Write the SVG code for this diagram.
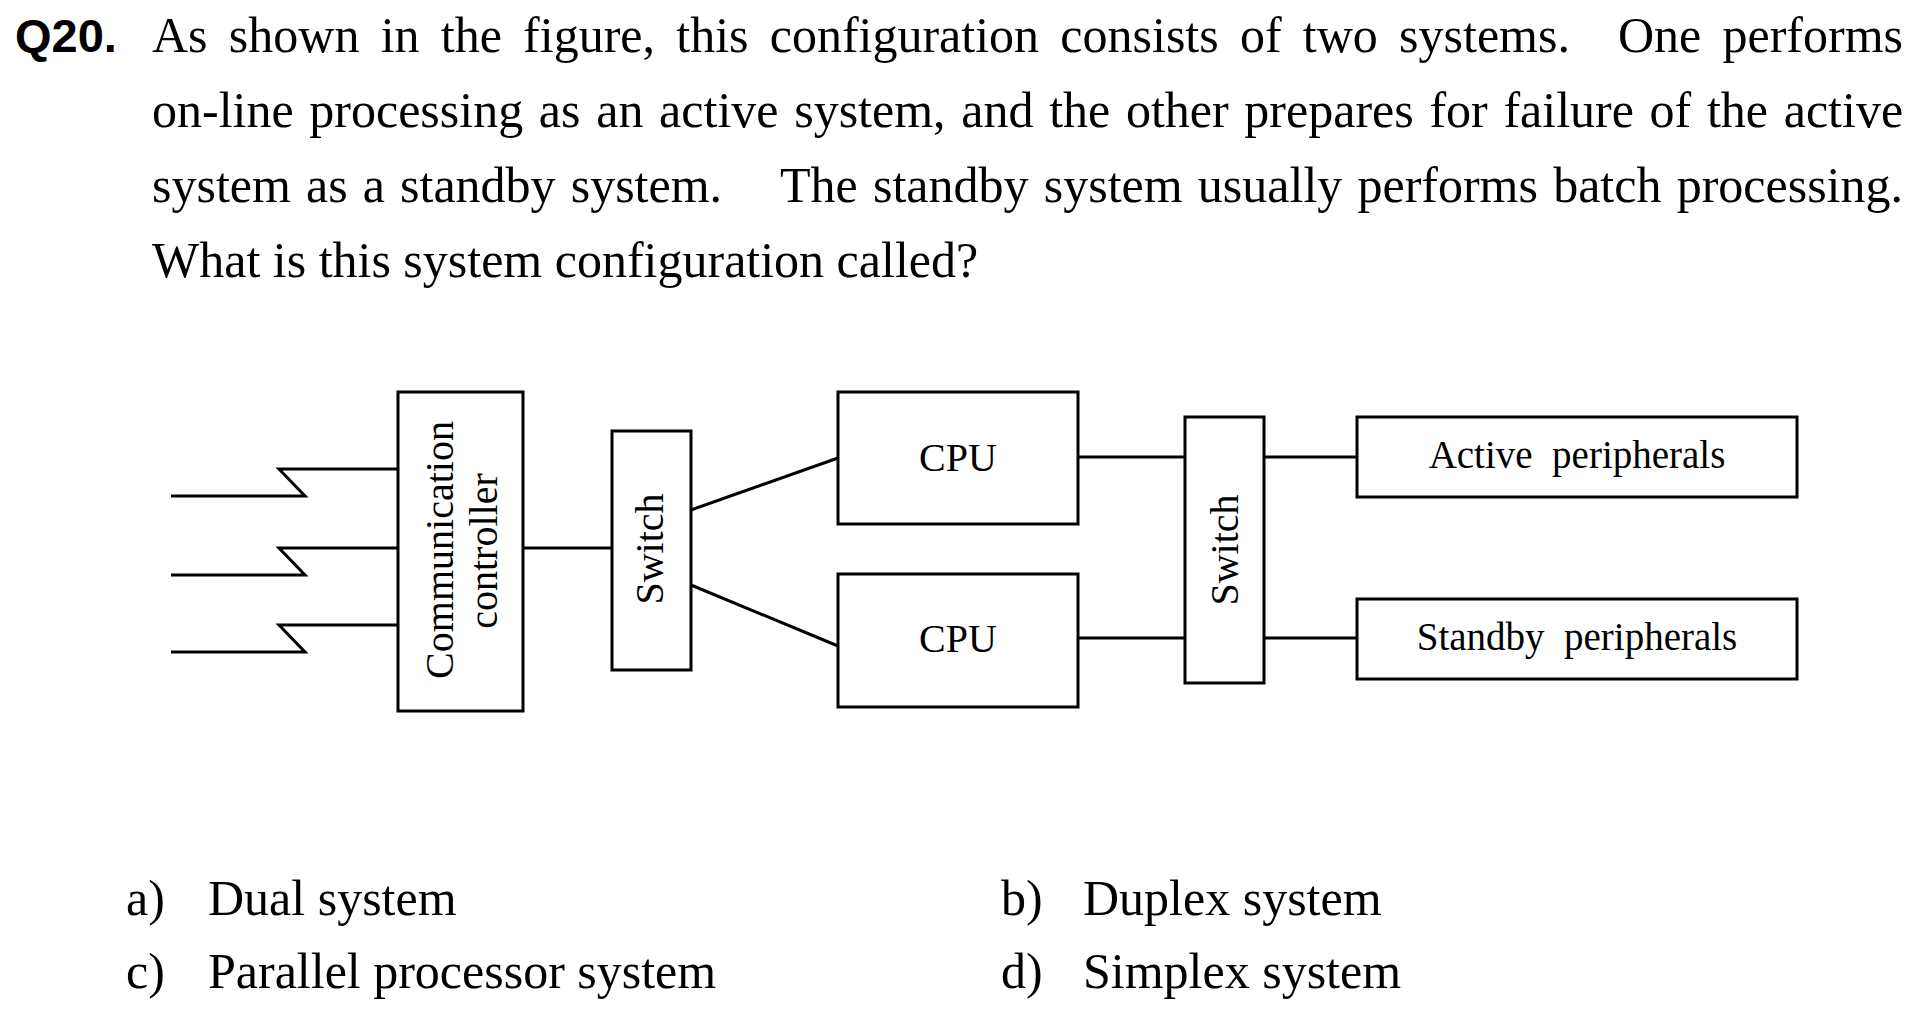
<svg xmlns="http://www.w3.org/2000/svg" width="1919" height="1017" viewBox="0 0 1919 1017">
<style>
.t{font-family:"Liberation Serif","Times New Roman",serif;fill:#000;}
.p{font-size:50px;}
.d{font-size:40px;}
.box{fill:#fff;stroke:#000;stroke-width:3;}
.ln{fill:none;stroke:#000;stroke-width:3;stroke-linejoin:miter;}
</style>
<rect width="1919" height="1017" fill="#fff"/>
<g id="question">
<text x="15" y="52" style="font-family:'Liberation Sans',Arial,sans-serif;font-weight:bold;font-size:47px">Q20.</text>
<text class="t p" x="152" y="52" word-spacing="8.75">As shown in the figure, this configuration consists of two systems.</text>
<text class="t p" x="1903" y="52" text-anchor="end" word-spacing="8.75">One performs</text>
<text class="t p" x="152" y="127" word-spacing="3.2">on-line processing as an active system, and the other prepares for failure of the active</text>
<text class="t p" x="152" y="202" word-spacing="2.6">system as a standby system.</text>
<text class="t p" x="1903" y="202" text-anchor="end" word-spacing="2.7">The standby system usually performs batch processing.</text>
<text class="t p" x="152" y="277">What is this system configuration called?</text>
</g>
<g id="connectors">
<polyline class="ln" points="171,496 305,496 279,469 398,469"/>
<polyline class="ln" points="171,575 305,575 279,548 398,548"/>
<polyline class="ln" points="171,652 305,652 279,625 398,625"/>
<line class="ln" x1="523" y1="548" x2="612" y2="548"/>
<line class="ln" x1="691" y1="510" x2="838" y2="458"/>
<line class="ln" x1="691" y1="585" x2="838" y2="646"/>
<line class="ln" x1="1078" y1="457" x2="1185" y2="457"/>
<line class="ln" x1="1078" y1="638" x2="1185" y2="638"/>
<line class="ln" x1="1264" y1="457" x2="1357" y2="457"/>
<line class="ln" x1="1264" y1="638" x2="1357" y2="638"/>
</g>
<g id="comm-controller">
<rect class="box" x="398" y="392" width="125" height="319"/>
<text class="t d" transform="translate(453,550) rotate(-90)" text-anchor="middle">Communication</text>
<text class="t d" transform="translate(497,551) rotate(-90)" text-anchor="middle">controller</text>
</g>
<g id="switch1">
<rect class="box" x="612" y="431" width="79" height="239"/>
<text class="t d" transform="translate(663,549) rotate(-90)" text-anchor="middle">Switch</text>
</g>
<g id="cpu1">
<rect class="box" x="838" y="392" width="240" height="132"/>
<text class="t d" x="958" y="471" text-anchor="middle">CPU</text>
</g>
<g id="cpu2">
<rect class="box" x="838" y="574" width="240" height="133"/>
<text class="t d" x="958" y="652" text-anchor="middle">CPU</text>
</g>
<g id="switch2">
<rect class="box" x="1185" y="417" width="79" height="266"/>
<text class="t d" transform="translate(1238,550) rotate(-90)" text-anchor="middle">Switch</text>
</g>
<g id="active-peripherals">
<rect class="box" x="1357" y="417" width="440" height="80"/>
<text class="t" x="1577" y="468" text-anchor="middle" style="font-size:39px" xml:space="preserve">Active  peripherals</text>
</g>
<g id="standby-peripherals">
<rect class="box" x="1357" y="599" width="440" height="80"/>
<text class="t" x="1577" y="650" text-anchor="middle" style="font-size:39px" xml:space="preserve">Standby  peripherals</text>
</g>
<g id="options">
<text class="t p" x="126" y="915">a)</text>
<text class="t p" x="208" y="915">Dual system</text>
<text class="t p" x="1001" y="915">b)</text>
<text class="t p" x="1083" y="915">Duplex system</text>
<text class="t p" x="126" y="988">c)</text>
<text class="t p" x="208" y="988">Parallel processor system</text>
<text class="t p" x="1001" y="988">d)</text>
<text class="t p" x="1083" y="988">Simplex system</text>
</g>
</svg>
